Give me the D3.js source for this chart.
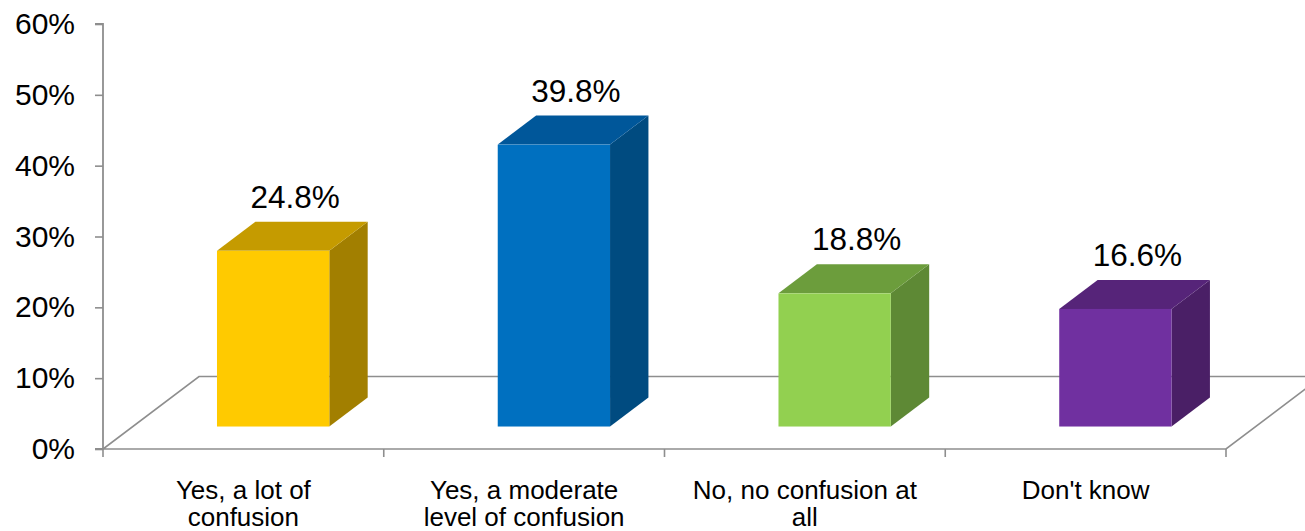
<!DOCTYPE html>
<html>
<head>
<meta charset="utf-8">
<script src="https://cdn.jsdelivr.net/npm/d3@7"></script>
<style>
  html, body { margin: 0; padding: 0; background: #fff; }
  svg { display: block; }
  text { font-family: "Liberation Sans", Arial, sans-serif; fill: #000; }
</style>
</head>
<body>
<svg id="chart" width="1305" height="531"></svg>
<script>
// ---- data ----
const categories = ["Yes, a lot of confusion", "Yes, a moderate level of confusion", "No, no confusion at all", "Don't know"];
const values = [0.248, 0.398, 0.188, 0.166];
const valueLabels = ["24.8%", "39.8%", "18.8%", "16.6%"];
const yTicks = [0, 0.1, 0.2, 0.3, 0.4, 0.5, 0.6];
const frontColors = ["#FFCA00", "#0070C0", "#92D050", "#7030A0"];
const topColors = ["#C59B00", "#00579A", "#6C9D3C", "#562479"];
const sideColors = ["#A27F00", "#004B80", "#5E8935", "#4A1F66"];

// ---- layout ----
const svg = d3.select("#chart");
const plotLeft = 103, plotRight = 1226, plotTop = 24, plotBottom = 449;
const floorDx = 96, floorDy = -72.5;       // full floor depth offset
const frontFrac = 0.31, depthFrac = 0.40;  // bar placement within floor depth
const barWidthFrac = 0.4;

const y = d3.scaleLinear().domain([0, 0.6]).range([plotBottom, plotTop]);
const x = d3.scaleBand().domain(categories).range([plotLeft, plotRight]).padding(0);

const gray = "#8E8E8E";

// floor
const fl = [[plotLeft, plotBottom], [plotRight, plotBottom], [plotRight + floorDx, plotBottom + floorDy], [plotLeft + floorDx, plotBottom + floorDy]];
svg.append("path")
  .attr("d", d3.line()(fl) + "Z")
  .attr("fill", "none")
  .attr("stroke", gray)
  .attr("stroke-width", 1.6);

// y axis
const yAxis = d3.axisLeft(y).tickValues(yTicks).tickFormat(d3.format(".0%")).tickSize(8).tickPadding(20);
const gy = svg.append("g").attr("transform", `translate(${plotLeft},0)`).call(yAxis);
gy.select(".domain").attr("stroke", gray).attr("stroke-width", 1.8).attr("d", `M-8,${plotTop}H0V${plotBottom}H-8`);
gy.selectAll(".tick line").attr("stroke", gray).attr("stroke-width", 1.6);
gy.selectAll(".tick text").style("font-size", "30px").attr("fill", "#000")
  .style("font-family", "'Liberation Sans', Arial, sans-serif");

// x axis
const xAxis = d3.axisBottom(x).tickSize(0).tickFormat("");
const gx = svg.append("g").attr("transform", `translate(0,${plotBottom})`).call(xAxis);
gx.select(".domain").remove();
const boundaries = categories.map(c => x(c)).concat([x(categories[categories.length - 1]) + x.bandwidth()]);
gx.selectAll(".bnd").data(boundaries).enter().append("line")
  .attr("x1", d => d).attr("x2", d => d).attr("y1", 0).attr("y2", 8)
  .attr("stroke", gray).attr("stroke-width", 1.6);

// category labels with wrapping
const labelG = svg.append("g");
categories.forEach((c, i) => {
  const cx = x(c) + x.bandwidth() / 2;
  const t = labelG.append("text")
    .attr("x", cx).attr("y", 499)
    .attr("text-anchor", "middle")
    .style("font-size", "26px");
  const words = c.split(" ");
  let line = [];
  let tspan = t.append("tspan").attr("x", cx).attr("dy", 0);
  words.forEach(w => {
    line.push(w);
    tspan.text(line.join(" "));
    if (tspan.node().getComputedTextLength() > 240 && line.length > 1) {
      line.pop();
      tspan.text(line.join(" "));
      line = [w];
      tspan = t.append("tspan").attr("x", cx).attr("dy", 26.5).text(w);
    }
  });
});

// bars
const bw = x.bandwidth() * barWidthFrac;
const fdx = floorDx * frontFrac, fdy = floorDy * frontFrac;
const ddx = floorDx * depthFrac, ddy = floorDy * depthFrac;
const barG = svg.append("g");
categories.forEach((c, i) => {
  const cx = x(c) + x.bandwidth() / 2 + fdx;
  const x0 = cx - bw / 2, x1 = cx + bw / 2;
  const yb = y(0) + fdy, yt = y(values[i]) + fdy;
  const g = barG.append("g");
  g.append("path")
    .attr("d", d3.line()([[x1, yt], [x1 + ddx, yt + ddy], [x1 + ddx, yb + ddy], [x1, yb]]) + "Z")
    .attr("fill", sideColors[i]);
  g.append("path")
    .attr("d", d3.line()([[x0, yt], [x0 + ddx, yt + ddy], [x1 + ddx, yt + ddy], [x1, yt]]) + "Z")
    .attr("fill", topColors[i]);
  g.append("rect")
    .attr("x", x0).attr("y", yt).attr("width", bw).attr("height", yb - yt)
    .attr("fill", frontColors[i]);
  svg.append("text")
    .attr("x", cx + 22).attr("y", yt + ddy - 14)
    .attr("text-anchor", "middle")
    .style("font-size", "31.5px")
    .text(valueLabels[i]);
});
</script>
</body>
</html>
